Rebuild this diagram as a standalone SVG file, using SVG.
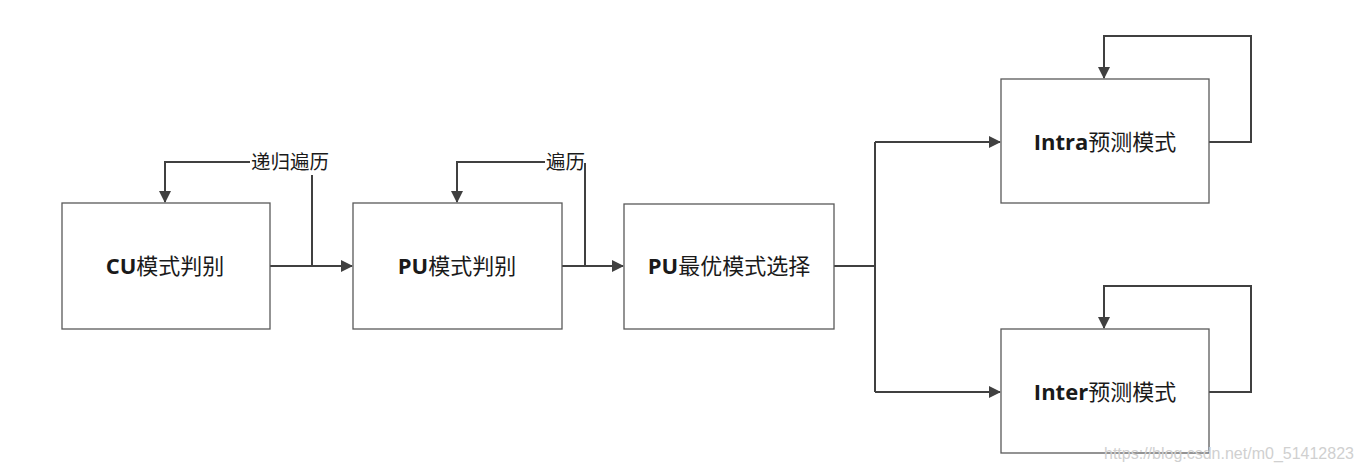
<svg xmlns="http://www.w3.org/2000/svg" width="1361" height="472" viewBox="0 0 1361 472">
<style>
.box{fill:#fff;stroke:#595959;stroke-width:1.3}
.t{font-family:"Noto Sans CJK SC","Noto Sans",sans-serif;font-size:22px;fill:#1a1a1a;text-anchor:middle}
.t .b{font-family:"Open Sans","Noto Sans",sans-serif;font-weight:bold}
.lbl{font-family:"Noto Sans CJK SC",sans-serif;font-size:19.5px;fill:#1a1a1a}
.c{fill:none;stroke:#404040;stroke-width:2}
.wm{font-family:"Liberation Sans",sans-serif;font-size:16px;fill:#d0d0d0}
</style>
<defs>
<marker id="ah" markerWidth="12" markerHeight="12" refX="11" refY="6" orient="auto" markerUnits="userSpaceOnUse" viewBox="0 0 12 12">
<path d="M0,0 L12,6 L0,12 z" fill="#404040"/>
</marker>
</defs>
<rect width="1361" height="472" fill="#fff"/>
<g id="connectors">
<path class="c" d="M270,266 H352" marker-end="url(#ah)"/>
<path class="c" d="M312,266 V175"/>
<path class="c" d="M250,162 H165 V202" marker-end="url(#ah)"/>
<path class="c" d="M562,266 H623" marker-end="url(#ah)"/>
<path class="c" d="M585,266 V163"/>
<path class="c" d="M545,162 H457 V202" marker-end="url(#ah)"/>
<path class="c" d="M834,266 H875"/>
<path class="c" d="M875,142 V392"/>
<path class="c" d="M875,142 H1000" marker-end="url(#ah)"/>
<path class="c" d="M875,392 H1000" marker-end="url(#ah)"/>
<path class="c" d="M1209,142 H1251 V36 H1104 V78" marker-end="url(#ah)"/>
<path class="c" d="M1209,392 H1251 V286 H1104 V328" marker-end="url(#ah)"/>
<text class="lbl" x="251" y="169">递归遍历</text>
<text class="lbl" x="546" y="169">遍历</text>
</g>
<g id="cu">
<rect class="box" x="62" y="203" width="208" height="126"/>
<text class="t" x="165" y="274"><tspan class="b">CU</tspan>模式判别</text>
</g>
<g id="pu">
<rect class="box" x="353" y="203" width="209" height="126"/>
<text class="t" x="457" y="274"><tspan class="b">PU</tspan>模式判别</text>
</g>
<g id="pubest">
<rect class="box" x="624" y="204" width="210" height="125"/>
<text class="t" x="729" y="274"><tspan class="b">PU</tspan>最优模式选择</text>
</g>
<g id="intra">
<rect class="box" x="1001" y="79" width="208" height="124"/>
<text class="t" x="1105" y="150"><tspan class="b">Intra</tspan>预测模式</text>
</g>
<g id="inter">
<rect class="box" x="1001" y="329" width="208" height="124"/>
<text class="t" x="1105" y="400"><tspan class="b">Inter</tspan>预测模式</text>
</g>
<text class="wm" x="1104" y="459">https://blog.csdn.net/m0_51412823</text>
</svg>
